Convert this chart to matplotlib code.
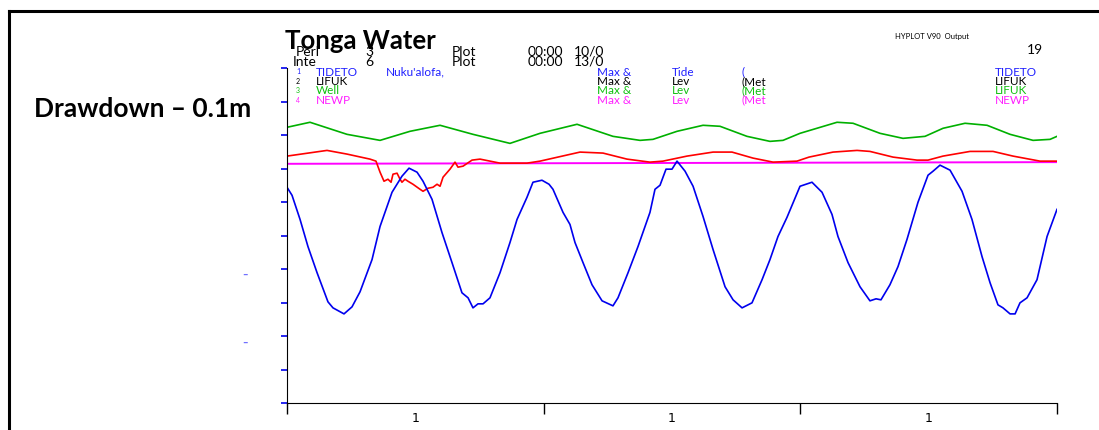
import matplotlib.pyplot as plt
from matplotlib.lines import Line2D

plt.rcParams['font.family'] = ['Lato', 'DejaVu Sans']

# temps en heures, niveaux en unites de graduation
tide_t = [0, 0.47, 1.22, 1.96, 2.81, 3.83, 4.30, 5.33, 6.08, 6.83, 7.95, 8.70, 9.82, 10.75,
          11.41, 12.16, 12.72, 13.56, 14.49, 15.43, 16.36, 16.93, 17.39, 17.86, 18.33, 18.98,
          19.92, 20.85, 21.51, 22.44, 23.00, 23.84, 24.50, 24.87, 25.81, 26.46, 26.93, 27.68,
          28.52, 29.46, 30.48, 30.95, 31.89, 32.82, 33.94, 34.41, 34.88, 35.44, 36.00, 36.47,
          37.22, 37.97, 38.90, 39.84, 40.96, 41.71, 42.55, 43.48, 44.42, 45.16, 45.91, 46.75,
          47.97, 49.09, 50.03, 50.96, 51.52, 52.46, 53.58, 54.51, 55.08, 55.54, 56.38, 57.13,
          57.97, 59.00, 59.94, 60.41, 61.06, 62.00, 63.12, 64.05, 64.99, 65.74, 66.48, 66.95,
          67.61, 68.08, 68.54, 69.20, 70.13, 71.07, 72.0]
tide_y = [6.44, 6.20, 5.48, 4.67, 3.89, 3.02, 2.84, 2.66, 2.87, 3.32, 4.28, 5.27, 6.29, 6.77,
          7.01, 6.89, 6.62, 6.08, 5.09, 4.19, 3.29, 3.14, 2.84, 2.96, 2.96, 3.14,
          3.89, 4.79, 5.48, 6.14, 6.59, 6.65, 6.53, 6.38, 5.69, 5.33, 4.79, 4.19,
          3.53, 3.05, 2.90, 3.14, 3.89, 4.67, 5.69, 6.38, 6.50, 6.98, 6.98, 7.22,
          6.92, 6.47, 5.57, 4.58, 3.47, 3.08, 2.84, 2.99, 3.68, 4.28, 4.97, 5.54,
          6.47, 6.59, 6.29, 5.63, 4.97, 4.19, 3.47, 3.05, 3.11, 3.08, 3.53, 4.07,
          4.88, 5.99, 6.80, 6.92, 7.10, 6.95, 6.32, 5.48, 4.37, 3.59, 2.93, 2.84,
          2.66, 2.66, 2.99, 3.14, 3.68, 4.97, 5.78]

well_t = [0, 2.15, 5.61, 8.70, 11.50, 14.31, 17.39, 20.85, 23.66, 27.12, 30.48, 33.01, 34.22,
          36.47, 38.90, 40.49, 43.01, 45.16, 46.38, 47.97, 51.43, 52.93, 55.45, 57.60, 59.66,
          61.34, 63.40, 65.46, 67.61, 69.76, 71.35, 72.0]
well_y = [8.23, 8.38, 8.02, 7.84, 8.11, 8.29, 8.02, 7.75, 8.05, 8.32, 7.96, 7.84, 7.87,
          8.11, 8.29, 8.26, 7.96, 7.81, 7.84, 8.05, 8.38, 8.35, 8.05, 7.90, 7.96,
          8.20, 8.35, 8.29, 8.02, 7.84, 7.87, 7.96]

lifuk_t = [0, 3.74, 5.61, 7.76, 8.32, 8.70, 9.07, 9.44, 9.73, 9.91, 10.29, 10.57, 10.75, 11.03,
           11.31, 11.78, 12.44, 12.72, 13.18, 13.65, 14.03, 14.31, 14.59, 15.24, 15.71, 15.99,
           16.46, 17.30, 18.05, 19.92, 22.44, 23.66, 27.40, 29.55, 31.79, 33.94, 35.16, 37.40,
           39.84, 41.61, 43.58, 45.45, 47.69, 48.81, 51.06, 53.30, 54.51, 56.67, 58.91, 59.94,
           61.34, 63.87, 66.02, 67.89, 70.41, 72.0]
lifuk_y = [7.37, 7.54, 7.43, 7.28, 7.22, 6.89, 6.62, 6.68, 6.59, 6.83, 6.86, 6.68, 6.59, 6.68,
           6.62, 6.53, 6.38, 6.32, 6.41, 6.44, 6.53, 6.47, 6.74, 6.98, 7.19, 7.04,
           7.07, 7.25, 7.28, 7.16, 7.16, 7.22, 7.49, 7.46, 7.28, 7.19, 7.22, 7.37,
           7.49, 7.49, 7.31, 7.19, 7.22, 7.34, 7.49, 7.54, 7.51, 7.34, 7.25, 7.25,
           7.37, 7.51, 7.51, 7.37, 7.22, 7.22]

newp_t = [0, 72.0]
newp_y = [7.14, 7.19]

xticks = [0, 24, 48, 72]
xlabels = ['1', '1', '1']
yticks = list(range(11))

fig = plt.figure(figsize=(10.99, 4.31), dpi=100)
ax = fig.add_axes([287 / 1099, 27 / 431, 770 / 1099, 335 / 431])

ax.plot(newp_t, newp_y, color='#ff00ff', lw=1.4)
ax.plot(well_t, well_y, color='#00b000', lw=1.2)
ax.plot(lifuk_t, lifuk_y, color='#ff0000', lw=1.2)
ax.plot(tide_t, tide_y, color='#0000ee', lw=1.2)

ax.set_xlim(0, 72)
ax.set_ylim(0, 10)
ax.spines['top'].set_visible(False)
ax.spines['right'].set_visible(False)
ax.set_yticks(yticks)
ax.set_yticklabels([])
ax.tick_params(axis='y', colors='#0000ee', length=4, width=1.2)
ax.spines['left'].set_color('black')
ax.set_xticks(xticks)
ax.set_xticklabels([])
ax.tick_params(axis='x', length=8, width=1, color='black')
ax.set_xticks([12, 36, 60], minor=True)
ax.set_xticklabels(xlabels, minor=True, fontsize=9, family='DejaVu Sans')
ax.tick_params(axis='x', which='minor', length=0, pad=6)

# cadre
fig.add_artist(Line2D([9 / 1099, 9 / 1099], [0, 1 - 12 / 431], color='black', lw=2.2))
fig.add_artist(Line2D([9 / 1099, 1], [1 - 12 / 431, 1 - 12 / 431], color='black', lw=2.2))


def put(x, y, s, **kw):
    fig.text(x / 1099, 1 - y / 431, s, va='center', **kw)


put(285, 41, 'Tonga Water', fontsize=18.5, fontweight='bold')
put(34, 109, 'Drawdown \u2013 0.1m', fontsize=19, fontweight='bold')
put(895, 36, 'HYPLOT V90  Output', fontsize=5.5)
put(1027, 50, '19', fontsize=10)

put(296, 52, 'Perl', fontsize=10)
put(293, 62, 'Inte', fontsize=10)
put(365, 52, '3', fontsize=10)
put(365, 62, '6', fontsize=10)
for yy in (52, 62):
    put(452, yy, 'Plot', fontsize=10)
    put(528, yy, '00:00', fontsize=10)
put(574, 52, '10/0', fontsize=10)
put(574, 62, '13/0', fontsize=10)

rows = [('#2020ff', 'TIDETO', 'Tide', '(', 'TIDETO'),
        ('black', 'LIFUK', 'Lev', '(Met', 'LIFUK'),
        ('#10c010', 'Well', 'Lev', '(Met', 'LIFUK'),
        ('#ff20ff', 'NEWP', 'Lev', '(Met', 'NEWP')]
for i, (c, name, kind, met, right) in enumerate(rows):
    yy = 72 + i * 9.4
    put(296, yy, str(i + 1), fontsize=5, color=c)
    put(316, yy, name, fontsize=8.5, color=c)
    put(597, yy, 'Max &', fontsize=8.5, color=c)
    put(672, yy, kind, fontsize=8.5, color=c)
    put(741, yy, met, fontsize=8.5, color=c)
    put(995, yy, right, fontsize=8.5, color=c)
put(386, 72, "Nuku'alofa,", fontsize=8.5, color='#2020ff')

put(242, 274, '-', fontsize=11, color='#7070ff', family='DejaVu Sans')
put(242, 342, '-', fontsize=11, color='#7070ff', family='DejaVu Sans')

fig.savefig('out.png', dpi=100)
